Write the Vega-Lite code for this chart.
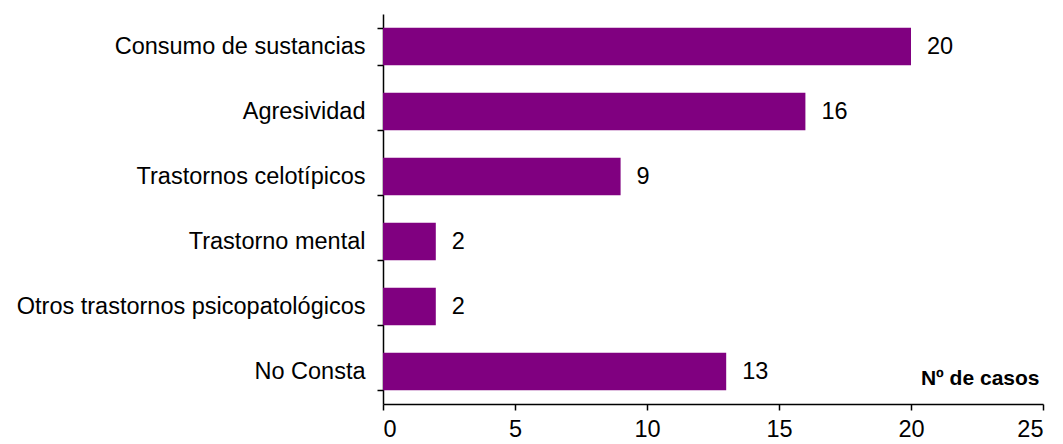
{
  "$schema": "https://vega.github.io/schema/vega-lite/v6.json",
  "width": 660,
  "height": 390,
  "autosize": {"type": "none"},
  "padding": {"left": 383, "top": 14, "right": 20, "bottom": 40},
  "background": "white",
  "config": {"view": {"stroke": null}, "font": "Liberation Sans"},
  "data": {"values": [
    {"cat": "Consumo de sustancias", "n": 20},
    {"cat": "Agresividad", "n": 16},
    {"cat": "Trastornos celotípicos", "n": 9},
    {"cat": "Trastorno mental", "n": 2},
    {"cat": "Otros trastornos psicopatológicos", "n": 2},
    {"cat": "No Consta", "n": 13}
  ]},
  "encoding": {
    "y": {"field": "cat", "type": "nominal", "sort": null,
      "scale": {"paddingInner": 0.42, "paddingOuter": 0.21},
      "axis": {"title": null, "tickBand": "extent", "domainColor": "black", "tickColor": "black",
        "tickSize": 6, "labelPadding": 12, "labelFontSize": 23.5, "labelColor": "black", "labelLimit": 400, "domainWidth": 1.5, "tickWidth": 1.5}},
    "x": {"field": "n", "type": "quantitative",
      "scale": {"domain": [0, 25], "nice": false},
      "axis": {"values": [0, 5, 10, 15, 20, 25], "grid": false, "domainColor": "black", "tickColor": "black",
        "tickSize": 6, "labelPadding": 7, "labelFontSize": 23.5, "labelColor": "black", "domainWidth": 1.5, "tickWidth": 1.5,
        "title": "Nº de casos", "titleFontSize": 21, "titleFontWeight": "bold", "titleColor": "black",
        "titleAlign": "right", "titleAnchor": null, "titleX": 656, "titleY": -20, "titleBaseline": "alphabetic"}}
  },
  "layer": [
    {"mark": {"type": "bar", "color": "#800080"}},
    {"mark": {"type": "text", "align": "left", "dx": 16, "fontSize": 23.5, "color": "black", "baseline": "middle"},
     "encoding": {"text": {"field": "n", "type": "quantitative"}}}
  ]
}
